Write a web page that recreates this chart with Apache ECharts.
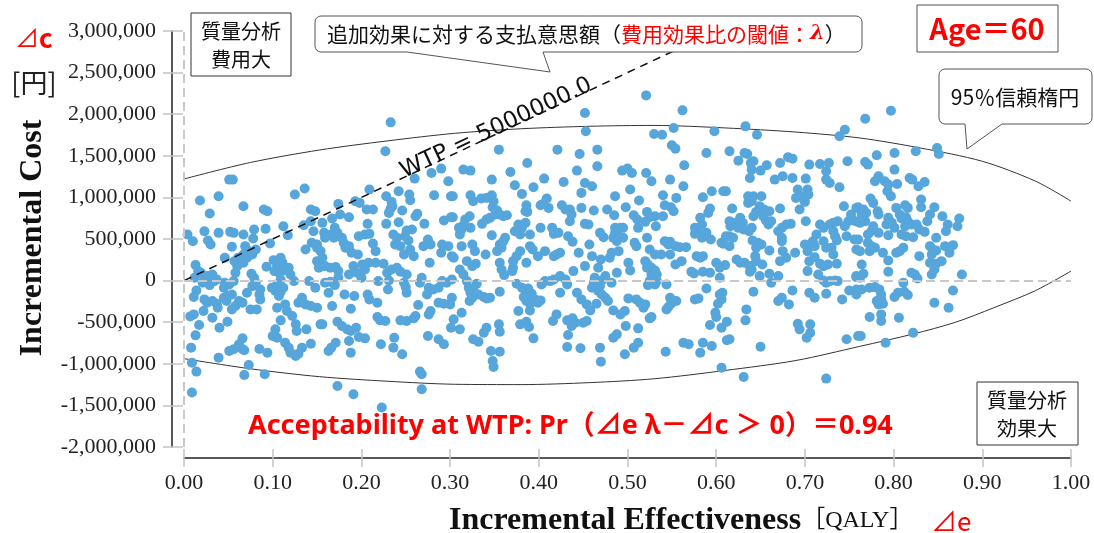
<!DOCTYPE html>
<html>
<head>
<meta charset="utf-8">
<title>CE plane</title>
<script src="https://cdn.jsdelivr.net/npm/echarts@6/dist/echarts.min.js"></script>
<style>
html, body { margin: 0; padding: 0; background: #fff; }
#main { width: 1094px; height: 533px; }
</style>
</head>
<body>
<div id="main"></div>
<script>
// simulated draws: [incremental effect (QALY), incremental cost (thousand yen)]
var draws = [
[0.051,1214],[0.055,1214],[0.136,1106],[0.125,1034],[0.018,962],[0.039,1014],[0.029,806],[0.067,894],[0.090,854],[0.094,834],[0.143,854],[0.148,834],[0.004,554],[0.010,474],[0.023,594],[0.027,482],[0.030,434],[0.039,574],[0.052,586],[0.056,574],[0.067,554],[0.079,614],[0.078,506],[0.092,622],[0.097,446],[0.112,654],[0.117,546],[0.135,666],[0.143,714],[0.146,594],[0.144,454],[0.150,394],[0.137,374],[0.054,406],[0.069,414],[0.073,354],[0.067,314],[0.077,314],[0.081,374],[0.071,274],[0.064,234],[0.067,214],[0.046,274],[0.093,166],[0.101,246],[0.109,274],[0.111,214],[0.105,174],[0.102,114],[0.107,94],[0.112,122],[0.118,154],[0.120,74],[0.124,-6],[0.109,14],[0.105,-46],[0.099,-86],[0.103,-126],[0.109,-134],[0.112,-86],[0.107,-186],[0.013,186],[0.016,114],[0.012,34],[0.019,94],[0.023,34],[0.021,-26],[0.026,54],[0.032,74],[0.029,-54],[0.034,-6],[0.037,14],[0.046,-26],[0.045,-86],[0.051,-46],[0.056,-6],[0.058,94],[0.060,174],[0.057,234],[0.061,274],[0.076,82],[0.079,34],[0.081,-26],[0.077,-66],[0.086,-106],[0.086,-226],[0.085,-166],[0.071,-146],[0.141,-6],[0.148,-86],[0.152,154],[0.150,234],[0.014,-118],[0.011,-198],[0.023,-226],[0.026,-266],[0.032,-246],[0.037,-278],[0.038,-326],[0.022,-366],[0.045,-206],[0.048,-246],[0.049,-186],[0.054,-166],[0.062,-246],[0.066,-266],[0.058,-306],[0.054,-346],[0.075,-346],[0.082,-346],[0.105,-326],[0.114,-286],[0.116,-366],[0.122,-426],[0.126,-526],[0.127,-606],[0.109,-478],[0.129,-266],[0.133,-206],[0.137,-286],[0.143,-306],[0.150,-326],[0.007,-430],[0.011,-406],[0.017,-534],[0.032,-446],[0.040,-566],[0.049,-494],[0.013,-658],[0.103,-586],[0.100,-666],[0.105,-686],[0.114,-746],[0.118,-806],[0.120,-866],[0.126,-906],[0.129,-878],[0.133,-806],[0.138,-586],[0.143,-758],[0.154,-526],[0.008,-806],[0.066,-694],[0.062,-766],[0.056,-826],[0.051,-846],[0.066,-826],[0.068,-838],[0.085,-822],[0.094,-866],[0.039,-926],[0.009,-986],[0.014,-1094],[0.073,-1014],[0.068,-1134],[0.091,-1126],[0.009,-1346],
[0.233,1902],[0.227,1554],[0.290,1346],[0.279,1294],[0.260,1226],[0.298,1194],[0.209,1094],[0.242,1074],[0.228,1014],[0.254,1034],[0.255,966],[0.282,1026],[0.301,1014],[0.174,922],[0.193,954],[0.198,934],[0.234,946],[0.235,894],[0.233,866],[0.231,814],[0.206,854],[0.213,854],[0.246,842],[0.263,802],[0.261,774],[0.167,746],[0.176,794],[0.186,762],[0.156,694],[0.207,682],[0.228,682],[0.242,702],[0.271,682],[0.293,722],[0.301,762],[0.170,634],[0.173,574],[0.169,514],[0.166,554],[0.158,574],[0.159,514],[0.178,514],[0.180,454],[0.182,394],[0.186,414],[0.197,534],[0.204,554],[0.209,562],[0.213,446],[0.216,354],[0.236,554],[0.240,514],[0.238,434],[0.244,414],[0.251,602],[0.249,534],[0.257,614],[0.253,482],[0.275,494],[0.278,434],[0.291,434],[0.298,414],[0.302,294],[0.150,434],[0.154,354],[0.156,274],[0.189,334],[0.196,314],[0.248,314],[0.255,374],[0.259,294],[0.270,414],[0.277,214],[0.290,334],[0.153,174],[0.159,174],[0.165,154],[0.171,162],[0.174,114],[0.191,174],[0.201,194],[0.208,214],[0.216,214],[0.225,202],[0.195,94],[0.200,34],[0.204,134],[0.229,94],[0.234,134],[0.240,154],[0.244,106],[0.251,74],[0.174,34],[0.186,74],[0.165,-14],[0.159,-26],[0.170,-54],[0.219,-6],[0.231,2],[0.230,-106],[0.248,-26],[0.250,-78],[0.251,-146],[0.268,34],[0.266,-26],[0.276,-86],[0.281,-106],[0.287,-86],[0.291,-6],[0.296,-26],[0.302,14],[0.274,-166],[0.163,-146],[0.181,-166],[0.192,-186],[0.207,-166],[0.209,-226],[0.218,-266],[0.167,-306],[0.188,-338],[0.300,-286],[0.264,-294],[0.287,-266],[0.293,-278],[0.278,-366],[0.276,-406],[0.218,-438],[0.221,-478],[0.227,-486],[0.244,-478],[0.251,-486],[0.259,-454],[0.261,-426],[0.156,-526],[0.173,-494],[0.178,-546],[0.184,-586],[0.188,-606],[0.194,-566],[0.197,-678],[0.204,-694],[0.237,-686],[0.236,-806],[0.222,-766],[0.246,-886],[0.275,-666],[0.287,-706],[0.293,-766],[0.301,-566],[0.163,-846],[0.166,-806],[0.171,-746],[0.186,-726],[0.188,-866],[0.266,-1094],[0.268,-1126],[0.268,-1306],[0.173,-1266],[0.191,-1366],[0.223,-1526],
[0.452,2014],[0.453,1794],[0.355,1574],[0.421,1574],[0.446,1522],[0.387,1414],[0.315,1334],[0.323,1322],[0.368,1306],[0.443,1322],[0.347,1214],[0.406,1226],[0.373,1146],[0.428,1186],[0.394,1122],[0.452,1174],[0.303,1014],[0.381,1042],[0.448,1054],[0.323,1026],[0.326,954],[0.335,986],[0.341,994],[0.347,1026],[0.349,954],[0.348,882],[0.353,842],[0.356,794],[0.360,774],[0.364,786],[0.351,794],[0.345,754],[0.341,734],[0.336,682],[0.386,906],[0.385,834],[0.387,826],[0.402,906],[0.405,922],[0.409,986],[0.411,874],[0.426,906],[0.430,854],[0.435,854],[0.437,794],[0.435,714],[0.448,874],[0.303,762],[0.317,734],[0.322,774],[0.315,666],[0.313,614],[0.310,634],[0.311,554],[0.323,634],[0.347,546],[0.377,674],[0.381,634],[0.385,694],[0.379,554],[0.373,594],[0.390,554],[0.402,634],[0.415,634],[0.417,562],[0.422,574],[0.433,534],[0.438,466],[0.452,682],[0.313,414],[0.325,434],[0.328,354],[0.340,314],[0.362,514],[0.360,474],[0.356,434],[0.353,354],[0.358,394],[0.379,354],[0.375,294],[0.371,234],[0.390,414],[0.393,374],[0.399,294],[0.407,354],[0.420,314],[0.417,294],[0.424,334],[0.445,334],[0.452,174],[0.304,274],[0.319,234],[0.325,174],[0.329,202],[0.311,134],[0.315,74],[0.356,214],[0.358,134],[0.361,66],[0.371,154],[0.386,214],[0.370,114],[0.439,114],[0.319,-6],[0.321,-86],[0.323,-146],[0.326,-106],[0.330,-38],[0.325,-206],[0.322,-246],[0.332,-166],[0.338,-198],[0.341,-214],[0.345,-206],[0.356,-134],[0.375,-38],[0.381,-86],[0.385,-126],[0.388,-94],[0.392,-158],[0.383,-198],[0.386,-246],[0.390,-278],[0.396,-226],[0.399,-266],[0.402,-238],[0.390,-358],[0.407,-6],[0.413,-6],[0.417,14],[0.424,54],[0.430,14],[0.432,-46],[0.424,-146],[0.403,-46],[0.443,-146],[0.448,-226],[0.454,-286],[0.302,-206],[0.313,-386],[0.304,-466],[0.311,-586],[0.377,-366],[0.420,-406],[0.416,-486],[0.432,-478],[0.438,-454],[0.441,-506],[0.437,-546],[0.450,-506],[0.379,-526],[0.386,-494],[0.389,-558],[0.341,-566],[0.338,-626],[0.355,-526],[0.356,-614],[0.326,-706],[0.332,-734],[0.394,-694],[0.433,-654],[0.432,-798],[0.447,-814],[0.346,-846],[0.356,-854],[0.348,-966],[0.349,-1038],
[0.521,2226],[0.562,2046],[0.552,1834],[0.598,1794],[0.530,1762],[0.539,1754],[0.466,1574],[0.550,1626],[0.554,1586],[0.589,1534],[0.466,1374],[0.564,1386],[0.494,1322],[0.500,1346],[0.505,1294],[0.521,1294],[0.527,1194],[0.548,1214],[0.460,1134],[0.563,1134],[0.503,1094],[0.595,1074],[0.486,1014],[0.540,1026],[0.555,994],[0.585,1002],[0.608,1074],[0.513,962],[0.462,842],[0.477,854],[0.498,882],[0.542,906],[0.549,882],[0.552,834],[0.593,866],[0.591,814],[0.485,786],[0.507,786],[0.511,734],[0.522,826],[0.525,762],[0.531,774],[0.520,706],[0.532,654],[0.512,634],[0.540,774],[0.456,674],[0.486,634],[0.492,634],[0.495,634],[0.486,574],[0.490,534],[0.484,514],[0.495,514],[0.488,474],[0.469,574],[0.473,522],[0.522,514],[0.508,454],[0.510,414],[0.542,474],[0.548,466],[0.546,434],[0.554,414],[0.559,402],[0.566,402],[0.576,634],[0.582,754],[0.584,674],[0.580,574],[0.576,562],[0.584,514],[0.589,574],[0.594,494],[0.606,454],[0.457,434],[0.525,374],[0.531,314],[0.482,334],[0.480,274],[0.490,354],[0.460,294],[0.470,254],[0.538,314],[0.548,314],[0.554,194],[0.561,234],[0.578,294],[0.582,274],[0.585,294],[0.600,214],[0.604,154],[0.501,214],[0.503,122],[0.520,234],[0.523,194],[0.522,154],[0.527,154],[0.531,122],[0.533,74],[0.527,74],[0.525,-6],[0.533,-6],[0.531,-46],[0.523,-54],[0.467,154],[0.463,34],[0.462,-26],[0.475,54],[0.471,2],[0.469,-66],[0.488,94],[0.544,-46],[0.572,106],[0.575,86],[0.585,106],[0.593,94],[0.604,34],[0.460,-86],[0.467,-126],[0.471,-166],[0.475,-206],[0.478,-246],[0.482,-26],[0.501,-214],[0.510,-226],[0.514,-266],[0.520,-286],[0.518,-326],[0.548,-206],[0.552,-246],[0.549,-278],[0.555,-246],[0.544,-346],[0.546,-318],[0.576,-226],[0.580,-214],[0.589,-94],[0.604,-166],[0.606,-226],[0.602,-278],[0.458,-358],[0.465,-278],[0.484,-358],[0.492,-406],[0.497,-366],[0.525,-454],[0.527,-438],[0.599,-386],[0.600,-438],[0.454,-486],[0.498,-546],[0.512,-574],[0.593,-534],[0.606,-566],[0.488,-646],[0.484,-686],[0.512,-746],[0.507,-806],[0.563,-746],[0.569,-766],[0.585,-746],[0.595,-786],[0.582,-866],[0.469,-806],[0.497,-886],[0.543,-854],[0.470,-974],[0.606,-1046],
[0.633,1854],[0.646,1754],[0.745,1814],[0.739,1734],[0.615,1554],[0.632,1534],[0.635,1522],[0.625,1442],[0.639,1414],[0.642,1434],[0.640,1334],[0.638,1234],[0.650,1322],[0.657,1386],[0.672,1414],[0.681,1482],[0.686,1466],[0.705,1394],[0.717,1402],[0.727,1414],[0.748,1434],[0.724,1314],[0.666,1214],[0.675,1254],[0.686,1234],[0.701,1226],[0.724,1214],[0.728,1174],[0.739,1122],[0.611,1074],[0.692,1094],[0.703,1094],[0.704,1034],[0.690,994],[0.698,1014],[0.636,1014],[0.642,1014],[0.651,1014],[0.636,934],[0.640,954],[0.618,866],[0.649,894],[0.654,854],[0.660,834],[0.672,866],[0.645,826],[0.642,774],[0.653,774],[0.656,722],[0.694,854],[0.700,946],[0.744,894],[0.758,874],[0.615,714],[0.619,694],[0.616,654],[0.627,754],[0.630,694],[0.625,634],[0.631,614],[0.662,714],[0.659,674],[0.679,674],[0.674,634],[0.684,682],[0.701,714],[0.752,794],[0.757,714],[0.749,714],[0.745,654],[0.732,694],[0.737,714],[0.728,674],[0.717,674],[0.721,634],[0.713,554],[0.670,594],[0.674,514],[0.640,634],[0.637,594],[0.611,534],[0.615,534],[0.619,514],[0.641,482],[0.647,454],[0.651,434],[0.645,394],[0.608,442],[0.615,414],[0.674,474],[0.675,354],[0.660,362],[0.732,594],[0.734,534],[0.736,482],[0.747,534],[0.700,434],[0.706,434],[0.709,474],[0.711,414],[0.721,474],[0.724,394],[0.756,494],[0.758,374],[0.703,354],[0.689,334],[0.730,394],[0.732,314],[0.623,254],[0.627,214],[0.632,214],[0.638,174],[0.640,134],[0.644,294],[0.645,234],[0.672,234],[0.679,274],[0.652,194],[0.610,186],[0.638,106],[0.705,234],[0.711,282],[0.717,202],[0.721,174],[0.726,194],[0.736,202],[0.703,114],[0.660,82],[0.670,54],[0.649,54],[0.662,-26],[0.715,74],[0.721,2],[0.724,-26],[0.728,-6],[0.734,2],[0.737,-6],[0.758,54],[0.607,-146],[0.642,-134],[0.674,-206],[0.670,-246],[0.686,-118],[0.682,-286],[0.705,-146],[0.711,-206],[0.724,-158],[0.742,-226],[0.750,-118],[0.758,-166],[0.634,-346],[0.612,-494],[0.633,-478],[0.692,-518],[0.694,-586],[0.706,-526],[0.706,-626],[0.702,-686],[0.612,-718],[0.615,-706],[0.650,-794],[0.747,-706],[0.760,-666],[0.631,-1158],[0.724,-1178],
[0.768,1946],[0.797,2042],[0.849,1594],[0.851,1522],[0.781,1506],[0.801,1534],[0.825,1554],[0.768,1426],[0.771,1394],[0.801,1334],[0.783,1254],[0.779,1194],[0.790,1194],[0.794,1154],[0.793,1074],[0.797,1014],[0.804,1162],[0.818,1234],[0.821,1214],[0.828,1134],[0.835,1186],[0.831,974],[0.831,882],[0.774,986],[0.777,934],[0.782,834],[0.783,794],[0.760,882],[0.766,854],[0.769,814],[0.764,794],[0.762,694],[0.768,714],[0.803,874],[0.813,906],[0.816,874],[0.807,794],[0.809,746],[0.814,762],[0.816,714],[0.820,674],[0.813,654],[0.794,754],[0.798,694],[0.792,674],[0.801,634],[0.777,654],[0.775,594],[0.771,554],[0.783,574],[0.826,674],[0.829,614],[0.835,586],[0.841,794],[0.838,714],[0.846,882],[0.855,774],[0.861,674],[0.859,594],[0.874,746],[0.872,654],[0.794,546],[0.809,554],[0.814,534],[0.822,522],[0.848,514],[0.760,494],[0.762,354],[0.771,454],[0.775,414],[0.779,394],[0.773,354],[0.788,334],[0.807,354],[0.811,394],[0.803,334],[0.829,294],[0.841,414],[0.844,374],[0.843,314],[0.848,362],[0.858,414],[0.863,394],[0.867,426],[0.863,334],[0.854,234],[0.848,202],[0.841,214],[0.764,194],[0.766,82],[0.794,242],[0.794,106],[0.820,94],[0.824,74],[0.827,26],[0.843,74],[0.846,134],[0.758,42],[0.762,34],[0.877,74],[0.811,-26],[0.867,-118],[0.758,-106],[0.764,-106],[0.773,-86],[0.779,-78],[0.784,-106],[0.786,-166],[0.786,-226],[0.788,-278],[0.783,-286],[0.781,-246],[0.801,-198],[0.805,-146],[0.812,-134],[0.816,-174],[0.846,-266],[0.862,-326],[0.773,-438],[0.786,-406],[0.786,-486],[0.806,-446],[0.763,-666],[0.791,-746],[0.822,-626]
];

// 95% ellipse (thousand yen)
var ellipseX = [0, 0.075, 0.153, 0.23, 0.305, 0.38, 0.458, 0.53, 0.61, 0.69, 0.762, 0.83, 0.9, 0.96, 1.0];
var ellipseTopK = [1222, 1420, 1570, 1680, 1770, 1825, 1855, 1865, 1835, 1785, 1714, 1594, 1434, 1195, 955];
var ellipseBotX = [0, 0.075, 0.153, 0.23, 0.305, 0.38, 0.458, 0.53, 0.61, 0.69, 0.762, 0.822, 0.87, 0.913, 0.96, 1.0];
var ellipseBotK = [-938, -1060, -1155, -1210, -1246, -1250, -1226, -1180, -1080, -960, -790, -642, -500, -326, -120, 114];

var wtp = 5000000;
var wtpEnd = 0.56;
var acceptability = 0.94;
var age = 60;

var JP = "'Noto Sans CJK JP'";
var SERIF = "'Liberation Serif', serif";

var myChart = echarts.init(document.getElementById('main'));

function zip(xs, ks) {
    return xs.map(function (x, i) { return [x, ks[i] * 1000]; });
}

var tickGray = '#c4c4c4';

var option = {
    animation: false,
    grid: { left: 184, right: 23, top: 31, bottom: 86 },
    xAxis: [{
        type: 'value', min: 0, max: 1, interval: 0.1, offset: 11,
        axisLine: { onZero: false, lineStyle: { color: '#222', width: 1.5 } },
        axisTick: { length: 9, lineStyle: { color: tickGray, width: 1.5 } },
        axisLabel: {
            margin: 14, fontFamily: SERIF, fontSize: 22, color: '#222',
            formatter: function (v) { return v.toFixed(2); }
        },
        splitLine: { show: false }
    }, {
        type: 'value', min: 0, max: 1, interval: 0.1, offset: 11, position: 'bottom',
        axisLine: { show: false, onZero: false },
        axisTick: { inside: true, length: 9, lineStyle: { color: tickGray, width: 1.5 } },
        axisLabel: { show: false },
        splitLine: { show: false }
    }],
    yAxis: [{
        type: 'value', min: -2000000, max: 3000000, interval: 500000, offset: 12,
        axisLine: { onZero: false, lineStyle: { color: '#222', width: 1.5 } },
        axisTick: { length: 9, lineStyle: { color: tickGray, width: 1.5 } },
        axisLabel: {
            margin: 16, fontFamily: SERIF, fontSize: 22, color: '#222',
            formatter: function (v) { return v.toLocaleString('en-US'); }
        },
        splitLine: { show: false }
    }, {
        type: 'value', min: -2000000, max: 3000000, interval: 500000, offset: 12, position: 'left',
        axisLine: { show: false, onZero: false },
        axisTick: { inside: true, length: 11, lineStyle: { color: tickGray, width: 1.5 } },
        axisLabel: { show: false },
        splitLine: { show: false }
    }],
    series: [{
        type: 'line',
        data: zip(ellipseX, ellipseTopK),
        smooth: 0.3, showSymbol: false, z: 1,
        lineStyle: { color: '#333', width: 1 },
        markLine: {
            silent: true, symbol: ['none', 'none'],
            label: { show: false },
            lineStyle: { color: '#c8c8c8', type: [9, 5], width: 2 },
            data: [{ xAxis: 0 }, { yAxis: 0 }]
        }
    }, {
        type: 'line',
        data: zip(ellipseBotX, ellipseBotK),
        smooth: 0.3, showSymbol: false, z: 1,
        lineStyle: { color: '#333', width: 1 }
    }, {
        type: 'scatter',
        data: draws.map(function (p) { return [p[0], p[1] * 1000]; }),
        symbolSize: 10, z: 2,
        itemStyle: { color: '#56a6db', opacity: 1 }
    }, {
        type: 'line',
        data: [[0, 0], [wtpEnd, wtp * wtpEnd]],
        showSymbol: false, z: 3,
        lineStyle: { color: '#111', width: 1.5, type: [8, 6] }
    }]
};
myChart.setOption(option);

// label along the WTP line
var p0 = myChart.convertToPixel({ gridIndex: 0 }, [0, 0]);
var p1 = myChart.convertToPixel({ gridIndex: 0 }, [wtpEnd, wtp * wtpEnd]);
var ang = Math.atan2(p0[1] - p1[1], p1[0] - p0[0]);
var lp = myChart.convertToPixel({ gridIndex: 0 }, [0.352, 1830000]);

// rounded box with a speech tail on its bottom edge
function bubble(x0, y0, x1, y1, r, tail) {
    var pts = [];
    function arc(cx, cy, a0) {
        for (var k = 0; k <= 4; k++) {
            var a = a0 + k * Math.PI / 8;
            pts.push([cx + r * Math.cos(a), cy + r * Math.sin(a)]);
        }
    }
    arc(x0 + r, y0 + r, Math.PI);
    arc(x1 - r, y0 + r, Math.PI * 1.5);
    arc(x1 - r, y1 - r, 0);
    pts.push(tail[2], tail[1], tail[0]);
    arc(x0 + r, y1 - r, Math.PI / 2);
    return { type: 'polygon', shape: { points: pts }, style: { fill: '#fff', stroke: '#555', lineWidth: 1 }, z: 10 };
}
function txt(x, y, text, style, extra) {
    var s = Object.assign({ text: text, x: 0, y: 0, fill: '#111', align: 'center', verticalAlign: 'middle',
        textAlign: 'center', textVerticalAlign: 'middle' }, style);
    return Object.assign({ type: 'text', x: x, y: y, style: s, z: 11 }, extra || {});
}

myChart.setOption({
    graphic: [
        // 質量分析 費用大
        { type: 'rect', shape: { x: 191, y: 13, width: 100, height: 63 }, style: { fill: '#fff', stroke: '#333', lineWidth: 1 }, z: 10 },
        txt(241, 45, '質量分析\n費用大', { fontFamily: JP, fontSize: 20, lineHeight: 28 }),
        // WTP callout
        bubble(315, 16, 862, 52, 6, [[407, 52], [550, 72], [543, 52]]),
        txt(327, 34, '{k|追加効果に対する支払意思額（}{r|費用効果比の閾値：}{l|λ}{k|）}', {
            align: 'left', textAlign: 'left',
            rich: {
                k: { fill: '#111', fontFamily: JP, fontSize: 21 },
                r: { fill: '#ff0000', fontFamily: JP, fontSize: 21 },
                l: { fill: '#ff0000', fontFamily: "'DejaVu Serif'", fontSize: 21, fontWeight: 'bold', fontStyle: 'italic' }
            }
        }),
        // Age box
        { type: 'rect', shape: { x: 917, y: 5, width: 141, height: 47 }, style: { fill: '#fff', stroke: '#555', lineWidth: 1 }, z: 10 },
        txt(987, 29, 'Age＝' + age, { fontFamily: JP, fontSize: 29, fontWeight: 'bold', fill: '#ff0000' }),
        // 95% ellipse callout
        bubble(939, 69, 1092, 124, 6, [[965, 124], [967, 149], [1002, 124]]),
        txt(1015, 97, '95％信頼楕円', { fontFamily: JP, fontSize: 21 }),
        // 質量分析 効果大
        { type: 'rect', shape: { x: 977, y: 382, width: 101, height: 63 }, style: { fill: '#fff', stroke: '#333', lineWidth: 1 }, z: 10 },
        txt(1027, 414, '質量分析\n効果大', { fontFamily: JP, fontSize: 20, lineHeight: 28 }),
        // acceptability
        txt(248, 426, 'Acceptability at WTP: Pr（⊿e λ－⊿c ＞ 0）＝' + acceptability.toFixed(2), {
            align: 'left', textAlign: 'left',
            fontFamily: "'Noto Sans', 'Noto Sans CJK JP'", fontSize: 27, fontWeight: 'bold', fill: '#ff0000'
        }),
        // WTP label
        txt(lp[0], lp[1], 'WTP = ' + wtp.toFixed(1), { fontFamily: "'DejaVu Sans'", fontSize: 23, fill: '#111' }, { rotation: ang }),
        // axis titles
        txt(33, 238, 'Incremental Cost', { fontFamily: SERIF, fontSize: 32, fontWeight: 'bold' }, { rotation: Math.PI / 2 }),
        txt(15, 38, '{t|⊿}{c|c}', {
            align: 'left', textAlign: 'left',
            rich: {
                t: { fill: '#ff0000', fontFamily: JP, fontSize: 24 },
                c: { fill: '#ff0000', fontFamily: JP, fontSize: 26, fontWeight: 'bold' }
            }
        }),
        txt(34, 83, '[円]', { fontFamily: JP, fontSize: 27, fill: '#222' }),
        txt(449, 521, '{a|Incremental Effectiveness}{b|［QALY］}{c|   ⊿e}', {
            align: 'left', textAlign: 'left',
            rich: {
                a: { fill: '#111', fontFamily: SERIF, fontSize: 32, fontWeight: 'bold' },
                b: { fill: '#111', fontFamily: SERIF + ", 'Noto Sans CJK JP'", fontSize: 24 },
                c: { fill: '#ff0000', fontFamily: JP, fontSize: 26 }
            }
        })
    ]
});
</script>
</body>
</html>
